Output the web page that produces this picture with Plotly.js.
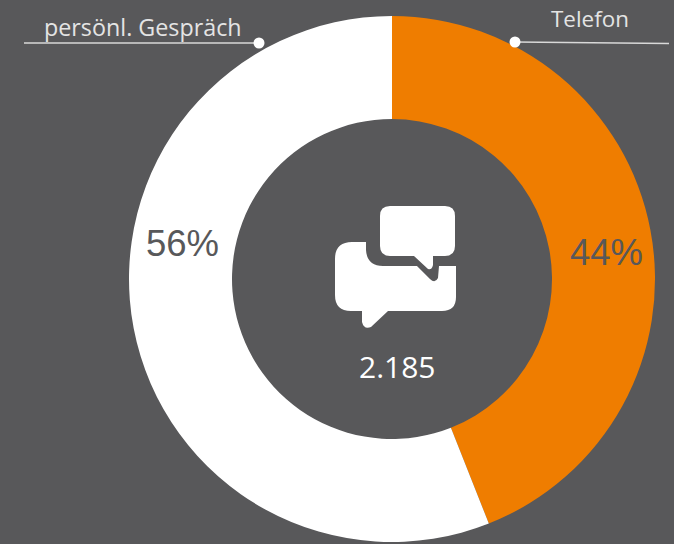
<!DOCTYPE html>
<html>
<head>
<meta charset="utf-8">
<script src="https://cdn.plot.ly/plotly-3.0.1.min.js"></script>
<style>html,body{margin:0;padding:0;background:#58585a;overflow:hidden}</style>
</head>
<body>
<div id="chart" style="width:674px;height:544px"></div>
<script>
const categories = ['Telefon', 'persönl. Gespräch'];
const shares = [44, 56];
const sliceColors = ['#ef7d00', '#ffffff'];
const totalLabel = '2.185';

const W = 674, H = 544;
const BG = '#58585a';
const fx = x => x / W;
const fy = y => 1 - y / H;
const cx = 392, cy = 279, R = 263;

// icon outlines in page pixels, converted to paper fractions
const toPath = s => s.replace(/(-?[\d.]+),(-?[\d.]+)/g, (m, a, b) => fx(+a).toFixed(5) + ',' + fy(+b).toFixed(5));
const iconTop = 'M390,206 L445,206 Q455,206 455,216 L455,246 Q455,256 445,256 L433,256 L433,265 Q432,270 428,269 L414,256 L390,256 Q380,256 380,246 L380,216 Q380,206 390,206 Z';
const iconBottom = 'M352,242 L366,242 L366,250 Q367,266 383,266 L417,266 L430,279 Q435,284 438,278 L439,266 L456,266 L456,297 Q456,311 442,311 L388,311 L371,327 Q364,330 362,322 L362,311 L351,311 Q335,311 335,295 L335,259 Q335,242 352,242 Z';

const line = (x0, y0, x1, y1) => ({type: 'line', xref: 'paper', yref: 'paper', x0: fx(x0), y0: fy(y0), x1: fx(x1), y1: fy(y1), line: {color: '#d9d9d9', width: 1.6}});
const dot = (x, y, r) => ({type: 'circle', xref: 'paper', yref: 'paper', x0: fx(x - r), x1: fx(x + r), y0: fy(y - r), y1: fy(y + r), fillcolor: '#ffffff', line: {width: 0}});
const icon = d => ({type: 'path', xref: 'paper', yref: 'paper', path: toPath(d), fillcolor: '#ffffff', line: {width: 0}});
const note = (text, x, y, size, color, family) => ({text, x: fx(x), y: fy(y), xref: 'paper', yref: 'paper', xanchor: 'center', yanchor: 'middle', showarrow: false, font: {size, color, family}});

const labelFont = '"Open Sans", sans-serif';
const pctFont = '"Liberation Sans", Arial, sans-serif';

Plotly.newPlot('chart', [{
  type: 'pie',
  labels: categories,
  values: shares,
  marker: {colors: sliceColors, line: {width: 0}},
  hole: 160 / 263,
  sort: false,
  direction: 'clockwise',
  rotation: 0,
  textinfo: 'none',
  hoverinfo: 'label+percent',
  showlegend: false,
  domain: {x: [fx(cx - R), fx(cx + R)], y: [fy(cy + R), fy(cy - R)]}
}], {
  width: W, height: H,
  margin: {l: 0, r: 0, t: 0, b: 0, pad: 0},
  paper_bgcolor: BG,
  plot_bgcolor: BG,
  showlegend: false,
  shapes: [
    line(24, 43, 258, 43), line(515, 42, 669, 43.5),
    dot(259, 43, 5.5), dot(515, 42, 5.5),
    icon(iconTop), icon(iconBottom)
  ],
  annotations: [
    note(categories[1], 143, 27, 23.3, '#e4e4e4', labelFont),
    note(categories[0], 590, 19, 22.4, '#e4e4e4', labelFont),
    note(shares[1] + '%', 182, 243, 36.5, BG, pctFont),
    note(shares[0] + '%', 606, 252, 36.5, BG, pctFont),
    note(totalLabel, 397, 366, 30, '#ffffff', labelFont)
  ]
}, {displayModeBar: false, staticPlot: true});
</script>
</body>
</html>
